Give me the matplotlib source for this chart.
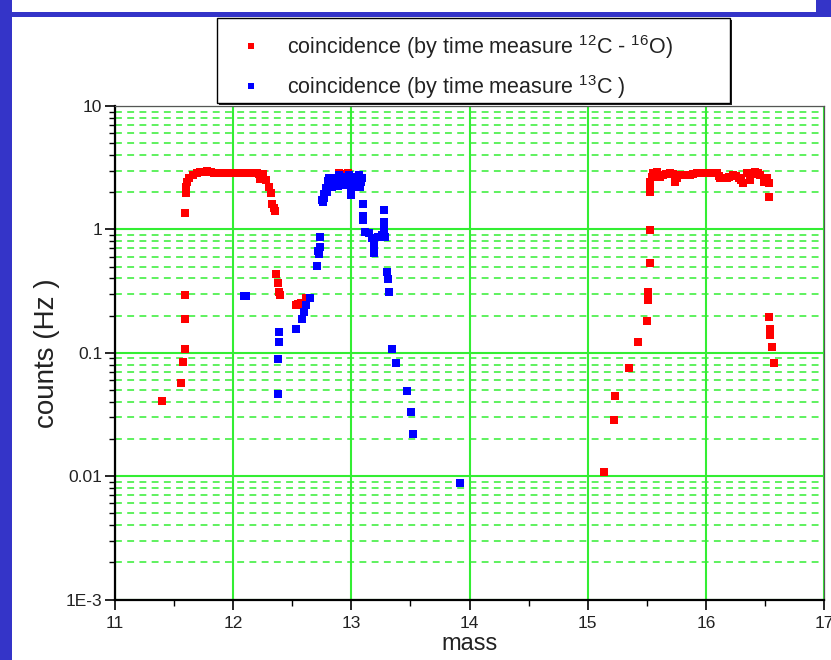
import matplotlib
matplotlib.use("Agg")
import matplotlib.pyplot as plt
from matplotlib.patches import Rectangle
from matplotlib.lines import Line2D
from matplotlib.ticker import FixedLocator, NullFormatter

plt.rcParams['font.family'] = ['Liberation Sans', 'DejaVu Sans']
plt.rcParams['mathtext.fontset'] = 'custom'
plt.rcParams['mathtext.rm'] = 'Liberation Sans'
plt.rcParams['mathtext.it'] = 'Liberation Sans'

# --- coincidence counts, 12C - 16O time measure ---
red_mass = [11.395, 11.562, 11.573, 11.590, 11.590, 11.590, 11.596,
            11.597, 11.600, 11.610, 11.630, 11.660, 11.690, 11.720, 11.750,
            11.780, 11.810, 11.840, 11.870, 11.900, 11.930, 11.960, 11.990,
            12.020, 12.050, 12.080, 12.110, 12.140, 12.170, 12.200, 12.220,
            12.230, 12.246, 12.250, 12.275, 12.303, 12.317, 12.331, 12.345,
            12.354, 12.362, 12.377, 12.388, 12.394, 12.529, 12.550, 12.572,
            12.614, 12.897, 12.950, 12.976,
            15.137, 15.222, 15.233, 15.347, 15.428, 15.499, 15.510, 15.510,
            15.525, 15.525, 15.527, 15.527, 15.530, 15.542, 15.556, 15.584,
            15.612, 15.640, 15.660, 15.697, 15.720, 15.739, 15.754, 15.780,
            15.810, 15.840, 15.867, 15.895, 15.924, 15.950, 15.980, 16.010,
            16.037, 16.065, 16.094, 16.110, 16.120, 16.150, 16.178, 16.200,
            16.234, 16.255, 16.277, 16.300, 16.314, 16.348, 16.376, 16.400,
            16.418, 16.440, 16.461, 16.489, 16.518, 16.531, 16.531, 16.531,
            16.546, 16.546, 16.560, 16.574]
red_counts = [0.0408, 0.0571, 0.0845, 0.1077, 0.1866, 0.294, 1.363,
              1.96, 2.21, 2.40, 2.59, 2.75, 2.88, 2.93, 2.90,
              2.95, 2.90, 2.88, 2.88, 2.87, 2.88, 2.88, 2.87,
              2.86, 2.88, 2.87, 2.85, 2.86, 2.84, 2.86, 2.80,
              2.55, 2.67, 2.80, 2.51, 2.21, 1.99, 1.62, 1.48,
              1.415, 0.434, 0.365, 0.312, 0.293, 0.244, 0.247, 0.251,
              0.276, 2.84, 2.80, 2.88,
              0.0107, 0.0285, 0.0446, 0.0748, 0.1215, 0.181, 0.267, 0.312,
              0.536, 0.987, 2.02, 2.20, 2.40, 2.67, 2.84, 2.93,
              2.67, 2.75, 2.80, 2.84, 2.80, 2.43, 2.59, 2.75,
              2.75, 2.78, 2.75, 2.80, 2.84, 2.86, 2.88, 2.88,
              2.88, 2.86, 2.84, 2.70, 2.59, 2.62, 2.59, 2.65,
              2.75, 2.70, 2.59, 2.50, 2.36, 2.84, 2.51, 2.80,
              2.93, 2.85, 2.75, 2.43, 2.59, 2.36, 1.84, 0.194,
              0.155, 0.139, 0.112, 0.082]

# --- coincidence counts, 13C time measure ---
blue_mass = [12.090, 12.110, 12.379, 12.382, 12.390, 12.390, 12.529,
             12.580, 12.600, 12.614, 12.648, 12.708, 12.721, 12.727, 12.733,
             12.733, 12.755, 12.761, 12.770, 12.784, 12.790, 12.800, 12.812,
             12.820, 12.830, 12.840, 12.855, 12.869, 12.880, 12.897, 12.910,
             12.925, 12.940, 12.954, 12.970, 12.982, 12.996, 13.000, 13.000,
             13.010, 13.024, 13.040, 13.050, 13.061, 13.080, 13.090, 13.095,
             13.095, 13.095, 13.118, 13.146, 13.174, 13.194, 13.194, 13.222,
             13.259, 13.287, 13.279, 13.279, 13.273, 13.302, 13.313, 13.316,
             13.344, 13.378, 13.468, 13.502, 13.522, 13.921,
             12.765, 12.805, 12.850, 12.890, 12.935, 12.990, 13.030, 13.070]
blue_counts = [0.290, 0.290, 0.046, 0.0894, 0.1215, 0.1464, 0.155,
               0.189, 0.215, 0.244, 0.277, 0.504, 0.671, 0.631, 0.715,
               0.871, 1.73, 1.674, 1.78, 2.15, 2.00, 2.45, 2.59,
               2.30, 2.60, 2.21, 2.30, 2.43, 2.55, 2.75, 2.65,
               2.36, 2.30, 2.59, 2.45, 2.75, 1.90, 2.55, 2.10,
               2.21, 2.51, 2.65, 2.35, 2.75, 2.43, 2.60, 1.62,
               1.19, 1.28, 0.956, 0.928, 0.845, 0.746, 0.639, 0.871,
               0.899, 0.871, 0.987, 1.15, 1.43, 0.453, 0.394, 0.312,
               0.107, 0.082, 0.049, 0.0329, 0.0218, 0.0088,
               1.95, 2.25, 2.50, 2.25, 2.50, 2.30, 2.40, 2.20]

x_ticks = [11, 12, 13, 14, 15, 16, 17]
y_ticks = [1e-3, 1e-2, 1e-1, 1, 10]
y_tick_labels = ['1E-3', '0.01', '0.1', '1', '10']
legend_labels = [r'coincidence (by time measure $^{12}$C - $^{16}$O)',
                 r'coincidence (by time measure $^{13}$C )']

W, H = 831, 660
GREEN = '#33ee33'
FRAME_BLUE = '#3434c8'

fig = plt.figure(figsize=(W / 100, H / 100), dpi=100)
fig.patch.set_facecolor('white')

def fx(px):
    return px / W

def fy(py):
    return 1 - py / H

# slide frame: blue strip on the left and band at the top
fig.add_artist(Rectangle((0, 0), fx(12), 1, transform=fig.transFigure,
                         facecolor=FRAME_BLUE, edgecolor='none', zorder=0))
fig.add_artist(Rectangle((0, fy(17)), 1, 17 / H, transform=fig.transFigure,
                         facecolor=FRAME_BLUE, edgecolor='none', zorder=0))
fig.add_artist(Rectangle((fx(12), fy(12)), fx(816 - 12), 12 / H,
                         transform=fig.transFigure, facecolor='white',
                         edgecolor='none', zorder=1))
fig.text(fx(463), fy(-6), 'mass', ha='center', va='center', fontsize=17,
         color='#222222', zorder=2)

ax = fig.add_axes([fx(115), fy(599.5), fx(824 - 115), (599.5 - 106) / H])
ax.set_yscale('log')
ax.set_xlim(11, 17)
ax.set_ylim(1e-3, 10)

ax.plot(red_mass, red_counts, linestyle='none', marker='s', markersize=5.2,
        markerfacecolor='#ff0000', markeredgewidth=0, zorder=3)
ax.plot(blue_mass, blue_counts, linestyle='none', marker='s', markersize=5.2,
        markerfacecolor='#0000ff', markeredgewidth=0, zorder=4)

ax.xaxis.set_major_locator(FixedLocator(x_ticks))
ax.xaxis.set_minor_locator(FixedLocator([v + 0.5 for v in x_ticks[:-1]]))
ax.set_xticklabels([str(v) for v in x_ticks])
ax.set_yticks(y_ticks)
ax.set_yticklabels(y_tick_labels)
minor_y = [m * d for d in [1e-3, 1e-2, 1e-1, 1] for m in range(2, 10)]
ax.yaxis.set_minor_locator(FixedLocator(minor_y))
ax.yaxis.set_minor_formatter(NullFormatter())

ax.grid(True, which='major', axis='both', color=GREEN, linewidth=1.5,
        linestyle='-', zorder=1)
ax.grid(True, which='minor', axis='y', color=GREEN, linewidth=1.1,
        linestyle=(0, (4.5, 3.5)), zorder=1)
ax.set_axisbelow(True)

ax.tick_params(axis='both', which='major', direction='out', length=7,
               width=1.2, color='black', labelsize=12.5, labelcolor='#222222')
ax.tick_params(axis='y', which='major', pad=2)
ax.tick_params(axis='x', which='major', pad=5)
ax.tick_params(axis='both', which='minor', direction='out', length=4,
               width=1.0, color='black')
ax.tick_params(top=False, right=False, which='both')

for side in ['left', 'bottom']:
    ax.spines[side].set_linewidth(1.6)
    ax.spines[side].set_color('black')
for side in ['top', 'right']:
    ax.spines[side].set_linewidth(0.9)
    ax.spines[side].set_color('#555555')

ax.set_xlabel('mass', fontsize=17, color='#222222', labelpad=1)
ax.set_ylabel('counts (Hz )', fontsize=20, color='#222222', labelpad=4)

# legend box with a drop shadow
lx0, lx1, ly0, ly1 = 217, 730, 17.5, 103
fig.add_artist(Rectangle((fx(lx0 + 2), fy(ly1 + 2)), fx(lx1 - lx0), (ly1 - ly0) / H,
                         transform=fig.transFigure, facecolor='#222222',
                         edgecolor='none', zorder=5))
fig.add_artist(Rectangle((fx(lx0), fy(ly1)), fx(lx1 - lx0), (ly1 - ly0) / H,
                         transform=fig.transFigure, facecolor='white',
                         edgecolor='black', linewidth=1.0, zorder=6))
for (py, color, label) in [(46, '#ff0000', legend_labels[0]),
                           (86, '#0000ff', legend_labels[1])]:
    fig.add_artist(Line2D([fx(251)], [fy(py)], transform=fig.transFigure,
                          linestyle='none', marker='s', markersize=4.0,
                          markerfacecolor=color, markeredgewidth=0, zorder=7))
    fig.text(fx(287), fy(py + 1), label, ha='left', va='center', fontsize=15.5,
             color='#222222', zorder=7)

fig.savefig('out.png', dpi=100)
